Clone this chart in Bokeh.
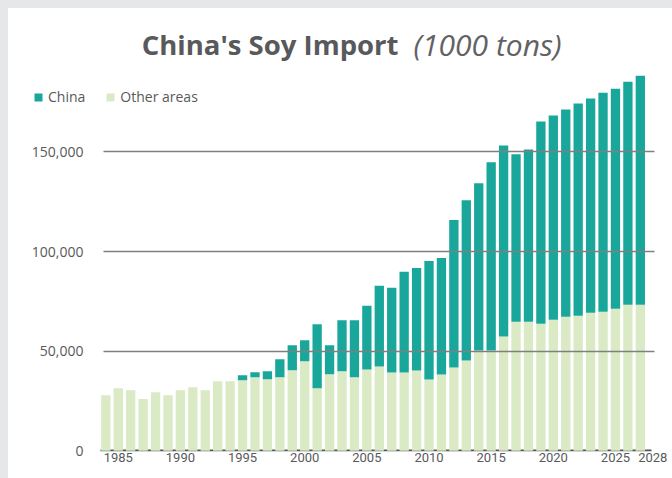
from bokeh.plotting import figure
from bokeh.models import (ColumnDataSource, FixedTicker, NumeralTickFormatter, Legend,
                          LegendItem, Label, Grid, BasicTickFormatter)
from bokeh.embed import file_html
from bokeh.resources import INLINE

years = list(range(1984, 2028))
other_areas = [27900, 31400, 30400, 25900, 29400, 27900, 30400, 31900, 30400, 34900,
               34900, 35400, 36900, 35900, 36900, 40400, 44900, 31400, 38400, 39900,
               36900, 40800, 42300, 39300, 39300, 40300, 35800, 38300, 41800, 45300,
               50300, 50300, 57300, 64800, 64800, 63800, 65800, 67300, 67800, 69300,
               69800, 71300, 73300, 73300]
china = [0, 0, 0, 0, 0, 0, 0, 0, 0, 0,
         0, 2500, 2500, 4000, 9000, 12600, 10600, 32100, 14600, 25600,
         28600, 32000, 40500, 42500, 50500, 51500, 59500, 58500, 74000, 80500,
         84000, 94500, 96000, 84000, 86500, 101500, 102500, 104000, 106500, 107500,
         110000, 110500, 112000, 115000]
x_ticks = [1985, 1990, 1995, 2000, 2005, 2010, 2015, 2020, 2025, 2028]
y_ticks = [0, 50000, 100000, 150000]

TEAL = "#1aa79b"
LIGHT = "#d9eac5"
TXT = "#58595b"

src = ColumnDataSource(dict(year=years, other=other_areas, china=china))

p = figure(width=664, height=470, output_backend="svg", toolbar_location=None,
           x_range=(1977.94, 2028.14), y_range=(-400, 212000),
           min_border_left=22, min_border_right=18, min_border_top=20, min_border_bottom=27)
p.outline_line_color = None
p.background_fill_alpha = 0
p.border_fill_alpha = 0

rs = p.vbar_stack(["other", "china"], x="year", width=0.75, source=src,
                  color=[LIGHT, TEAL], line_color=None)

# axes
p.xaxis.ticker = FixedTicker(ticks=x_ticks)
p.xaxis.formatter = BasicTickFormatter(use_scientific=False)
p.xaxis.axis_line_color = None
p.xaxis.major_tick_line_color = None
p.xaxis.minor_tick_line_color = None
p.xaxis.major_tick_out = 0
p.xaxis.major_tick_in = 0
p.xaxis.major_label_standoff = 1
p.xaxis.major_label_text_font = "Roboto"
p.xaxis.major_label_text_font_size = "13px"
p.xaxis.major_label_text_color = TXT

p.yaxis.ticker = FixedTicker(ticks=y_ticks)
p.yaxis.formatter = NumeralTickFormatter(format="0,0")
p.yaxis.axis_line_color = None
p.yaxis.major_tick_line_color = None
p.yaxis.minor_tick_line_color = None
p.yaxis.major_tick_out = 0
p.yaxis.major_tick_in = 0
p.yaxis.major_label_standoff = -53
p.yaxis.major_label_text_font = "Open Sans"
p.yaxis.major_label_text_font_size = "14px"
p.yaxis.major_label_text_color = TXT

p.xgrid.visible = False
p.ygrid.ticker = FixedTicker(ticks=[50000, 100000, 150000])
p.ygrid.grid_line_color = "#7f7f7f"
p.ygrid.grid_line_width = 1.5
p.ygrid.level = "overlay"
p.ygrid.cross_bounds = (1983.8, 2028.1)

zero_grid = Grid(dimension=1, ticker=FixedTicker(ticks=[0]), grid_line_color="#555555",
                 grid_line_width=2, level="underlay", cross_bounds=(1983.6, 2027.9))
p.add_layout(zero_grid)

legend = Legend(items=[LegendItem(label="China", renderers=[rs[1]]),
                       LegendItem(label="Other areas", renderers=[rs[0]])],
                orientation="horizontal", location=(3, 345),
                glyph_width=10, glyph_height=10, label_height=10,
                label_standoff=5, spacing=20, padding=0, margin=0,
                border_line_color=None, background_fill_alpha=0,
                label_text_font="Open Sans", label_text_font_size="14px",
                label_text_color=TXT)
p.add_layout(legend)

t1 = Label(x=368, y=407, x_units="screen", y_units="screen", text="China's Soy Import",
           text_align="right", text_baseline="alphabetic", text_font="Open Sans",
           text_font_style="bold", text_font_size="27.5px", text_color=TXT)
t2 = Label(x=383, y=407, x_units="screen", y_units="screen", text="(1000 tons)",
           text_align="left", text_baseline="alphabetic", text_font="Open Sans",
           text_font_style="italic", text_font_size="30px", text_color="#616264")
p.add_layout(t1)
p.add_layout(t2)

html = file_html(p, INLINE)
html = html.replace("</head>", "<style>html{background:#e6e7e8 !important;overflow:hidden !important}"
                    "body{background:#ffffff !important;overflow:hidden !important;"
                    "margin:8px 0 0 8px !important}</style></head>", 1)
open("out.html", "w").write(html)
